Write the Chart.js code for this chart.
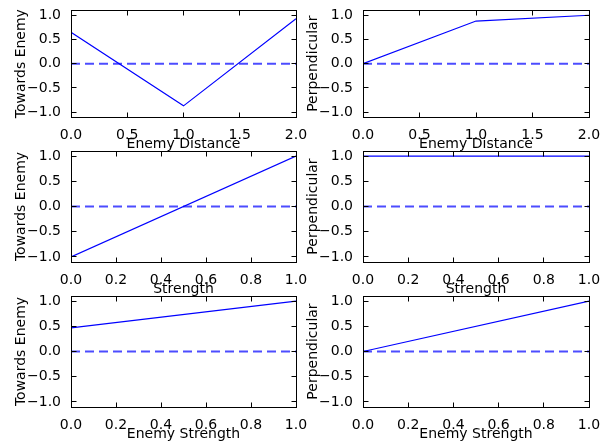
<!DOCTYPE html>
<html>
<head>
<meta charset="utf-8">
<script src="https://cdn.jsdelivr.net/npm/chart.js@4.4.0/dist/chart.umd.min.js"></script>
<style>
  html, body { margin: 0; padding: 0; background: #fff; }
  #wrap { position: relative; width: 608px; height: 445px; }
  #wrap canvas { position: absolute; left: 0; top: 0; }
</style>
</head>
<body>
<div id="wrap"></div>
<script>
// values
const distX = [0, 1, 2];
const distTowards = [0.65, -0.87, 0.93];
const distPerp = [0, 0.88, 1.0];

const strengthX = [0, 1];
const strengthTowards = [-1, 1];
const strengthPerp = [1, 1];

const enemyStrengthX = [0, 1];
const enemyStrengthTowards = [0.47, 1];
const enemyStrengthPerp = [0, 1];

const distTicks = [0, 0.5, 1, 1.5, 2];
const unitTicks = [0, 0.2, 0.4, 0.6, 0.8, 1];
const yTicks = [-1, -0.5, 0, 0.5, 1];

const panels = [
  { xs: distX, ys: distTowards, xTicks: distTicks, xLabel: 'Enemy Distance', yLabel: 'Towards Enemy', row: 0, col: 0 },
  { xs: distX, ys: distPerp, xTicks: distTicks, xLabel: 'Enemy Distance', yLabel: 'Perpendicular', row: 0, col: 1 },
  { xs: strengthX, ys: strengthTowards, xTicks: unitTicks, xLabel: 'Strength', yLabel: 'Towards Enemy', row: 1, col: 0 },
  { xs: strengthX, ys: strengthPerp, xTicks: unitTicks, xLabel: 'Strength', yLabel: 'Perpendicular', row: 1, col: 1 },
  { xs: enemyStrengthX, ys: enemyStrengthTowards, xTicks: unitTicks, xLabel: 'Enemy Strength', yLabel: 'Towards Enemy', row: 2, col: 0 },
  { xs: enemyStrengthX, ys: enemyStrengthPerp, xTicks: unitTicks, xLabel: 'Enemy Strength', yLabel: 'Perpendicular', row: 2, col: 1 },
];

// layout of the grid (plot area edges in page pixels)
const W = 608, H = 445;
const colLeft = [71, 363];
const colRight = [296, 589];
const rowTop = [6, 151, 296];
const plotH = 111;
const yAxisW = 60;
const xAxisH = 36;

const FONT = { family: 'DejaVu Sans', size: 14 };

function fmt(v) {
  return v.toFixed(1).replace('-', '\u2212');
}

// matplotlib-ish box with inward ticks on all four sides
const framePlugin = {
  id: 'frame',
  afterDatasetsDraw(chart) {
    const { ctx, chartArea: a, scales: { x, y } } = chart;
    const L = Math.floor(a.left) + 0.5, R = Math.floor(a.right) + 0.5;
    const T = Math.floor(a.top) + 0.5, B = Math.floor(a.bottom) + 0.5;
    const len = 5;
    ctx.save();
    ctx.strokeStyle = '#000';
    ctx.lineWidth = 1;
    ctx.beginPath();
    x.ticks.forEach(t => {
      const px = Math.floor(x.getPixelForValue(t.value)) + 0.5;
      ctx.moveTo(px, T); ctx.lineTo(px, T + len);
      ctx.moveTo(px, B); ctx.lineTo(px, B - len);
    });
    y.ticks.forEach(t => {
      const py = Math.floor(y.getPixelForValue(t.value)) + 0.5;
      ctx.moveTo(L, py); ctx.lineTo(L + len, py);
      ctx.moveTo(R, py); ctx.lineTo(R - len, py);
    });
    ctx.stroke();
    ctx.strokeRect(L, T, R - L, B - T);
    ctx.restore();
  }
};

const wrap = document.getElementById('wrap');

panels.forEach(p => {
  const canvas = document.createElement('canvas');
  canvas.width = W;
  canvas.height = H;
  wrap.appendChild(canvas);

  const xMin = p.xTicks[0];
  const xMax = p.xTicks[p.xTicks.length - 1];
  const top = rowTop[p.row];

  new Chart(canvas.getContext('2d'), {
    type: 'line',
    data: {
      datasets: [
        {
          data: p.xs.map((v, i) => ({ x: v, y: p.ys[i] })),
          borderColor: '#0000ff',
          borderWidth: 1.2,
          pointRadius: 0,
          tension: 0,
          fill: false
        },
        {
          data: [{ x: xMin, y: 0 }, { x: xMax, y: 0 }],
          borderColor: 'rgba(0, 0, 255, 0.7)',
          borderWidth: 2,
          borderDash: [9, 5],
          pointRadius: 0,
          fill: false
        }
      ]
    },
    options: {
      responsive: false,
      animation: false,
      devicePixelRatio: 1,
      layout: {
        padding: {
          left: colLeft[p.col] - yAxisW,
          right: W - colRight[p.col],
          top: top,
          bottom: H - (top + plotH) - xAxisH
        }
      },
      plugins: { legend: { display: false }, tooltip: { enabled: false } },
      scales: {
        x: {
          type: 'linear',
          min: xMin,
          max: xMax,
          grid: { display: false },
          border: { display: false },
          afterBuildTicks: s => { s.ticks = p.xTicks.map(v => ({ value: v })); },
          afterFit: s => { s.height = xAxisH; },
          ticks: {
            font: FONT, color: '#000', padding: 2,
            maxRotation: 0, autoSkip: false,
            callback: v => fmt(v)
          },
          title: {
            display: true, text: p.xLabel, font: FONT, color: '#000',
            padding: { top: 0, bottom: 0 }
          }
        },
        y: {
          type: 'linear',
          min: -1.1,
          max: 1.1,
          grid: { display: false },
          border: { display: false },
          afterBuildTicks: s => { s.ticks = yTicks.map(v => ({ value: v })); },
          afterFit: s => { s.width = yAxisW; },
          ticks: {
            font: FONT, color: '#000', padding: 2,
            autoSkip: false,
            callback: v => fmt(v)
          },
          title: {
            display: true, text: p.yLabel, font: FONT, color: '#000',
            padding: { top: 1.6, bottom: 0 }
          }
        }
      }
    },
    plugins: [framePlugin]
  });
});
</script>
</body>
</html>
